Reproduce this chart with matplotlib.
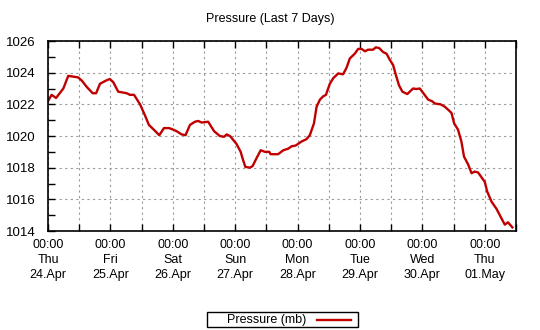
import matplotlib
matplotlib.use('Agg')
from matplotlib import pyplot as plt
from matplotlib.ticker import MultipleLocator
from matplotlib.patches import Rectangle
from matplotlib.lines import Line2D

plt.rcParams['font.family'] = ['Liberation Sans', 'DejaVu Sans']

# hours since Thu 24.Apr 00:00, pressure in mb
hours = [0, 1.4, 3.1, 5.9, 7.8, 11.6, 13.0, 14.9, 17.2, 18.5, 20.0, 22.3, 23.8,
         25.1, 27.0, 30.3, 31.5, 33.1, 35.4, 37.3, 38.8, 40.7, 42.8, 44.6, 46.6,
         48.2, 49.5, 51.4, 52.9, 54.6, 56.5, 57.8, 59.1, 61.6, 63.9, 66.1, 67.7,
         68.7, 70.0, 72.5, 74.1, 75.0, 75.9, 77.6, 78.7, 80.2, 81.8, 83.4, 85.1,
         85.6, 88.5, 90.5, 92.4, 93.7, 95.3, 96.6, 97.5, 99.4, 100.7, 102.3,
         103.3, 104.6, 105.8, 106.9, 108.4, 109.7, 111.6, 113.5, 114.8, 116.1,
         118.0, 119.3, 120.6, 121.9, 123.1, 125.0, 126.1, 127.4, 128.9, 130.2,
         131.5, 132.7, 133.8, 135.0, 136.3, 138.2, 140.4, 141.7, 143.0, 144.2,
         146.2, 147.7, 148.8, 151.0, 152.6, 154.3, 155.2, 156.2, 157.7, 159.0,
         160.0, 161.6, 162.9, 164.1, 165.4, 166.7, 168.0, 168.9, 170.6, 172.5,
         174.4, 175.7, 176.9, 178.6]
pressure = [1022.2, 1022.6, 1022.4, 1023.0, 1023.8, 1023.7, 1023.5, 1023.1,
            1022.7, 1022.7, 1023.3, 1023.5, 1023.6, 1023.4, 1022.8, 1022.7,
            1022.6, 1022.6, 1022.0, 1021.3, 1020.7, 1020.4, 1020.05, 1020.5,
            1020.5, 1020.4, 1020.3, 1020.1, 1020.05, 1020.7, 1020.9, 1020.95,
            1020.85, 1020.9, 1020.3, 1020.0, 1019.95, 1020.1, 1020.0, 1019.5,
            1019.0, 1018.5, 1018.05, 1018.0, 1018.1, 1018.6, 1019.1, 1019.0,
            1019.0, 1018.85, 1018.85, 1019.1, 1019.2, 1019.35, 1019.4, 1019.55,
            1019.65, 1019.8, 1020.05, 1020.8, 1021.85, 1022.3, 1022.5, 1022.6,
            1023.3, 1023.65, 1023.95, 1023.9, 1024.3, 1024.9, 1025.2, 1025.5,
            1025.5, 1025.35, 1025.45, 1025.45, 1025.6, 1025.55, 1025.3, 1025.2,
            1024.8, 1024.5, 1023.85, 1023.2, 1022.8, 1022.65, 1023.0, 1022.97,
            1023.0, 1022.74, 1022.3, 1022.2, 1022.05, 1022.0, 1021.85, 1021.6,
            1021.45, 1020.8, 1020.4, 1019.65, 1018.7, 1018.2, 1017.65, 1017.75,
            1017.7, 1017.4, 1017.1, 1016.5, 1015.85, 1015.4, 1014.8, 1014.4,
            1014.55, 1014.23]

day_hours = [0, 24, 48, 72, 96, 120, 144, 168]
day_labels = ['00:00\nThu\n24.Apr', '00:00\nFri\n25.Apr', '00:00\nSat\n26.Apr',
              '00:00\nSun\n27.Apr', '00:00\nMon\n28.Apr', '00:00\nTue\n29.Apr',
              '00:00\nWed\n30.Apr', '00:00\nThu\n01.May']

RED = '#c00000'
W, H = 540, 330

fig = plt.figure(figsize=(5.4, 3.3), dpi=100)
ax = fig.add_axes([48 / W, 99 / H, 468 / W, 190 / H])

ax.plot(hours, pressure, color=RED, linewidth=1.7)

ax.set_xlim(0, 180)
ax.set_ylim(1014, 1026)
ax.set_xticks(day_hours)
ax.set_xticklabels(day_labels, fontsize=9, linespacing=1.3)
ax.xaxis.set_minor_locator(MultipleLocator(12))
ax.yaxis.set_major_locator(MultipleLocator(2))
ax.yaxis.set_minor_locator(MultipleLocator(1))
ax.tick_params(axis='y', labelsize=9.5)

ax.tick_params(which='both', direction='in', top=True, right=False,
               width=1, color='black', length=5)
ax.tick_params(axis='x', pad=6)
ax.tick_params(axis='y', pad=9)

dots = dict(color='#999999', linestyle=(0, (2, 3)), linewidth=0.8)
ax.grid(True, which='both', axis='x', **dots)
ax.grid(True, which='major', axis='y', **dots)
for s in ax.spines.values():
    s.set_linewidth(1.2)
    s.set_color('black')

fig.suptitle('Pressure (Last 7 Days)', fontsize=9, x=0.5, y=0.96)

# legend box under the plot: label first, then the line sample
fig.patches.append(Rectangle((207 / W, 3 / H), 151 / W, 15 / H,
                             transform=fig.transFigure, facecolor='white',
                             edgecolor='black', linewidth=1))
fig.text(227 / W, 10.5 / H, 'Pressure (mb)', fontsize=9, va='center', ha='left')
fig.lines.append(Line2D([317 / W, 351 / W], [10.5 / H, 10.5 / H],
                        transform=fig.transFigure, color=RED, linewidth=1.7))

fig.savefig('out.png', dpi=100)
